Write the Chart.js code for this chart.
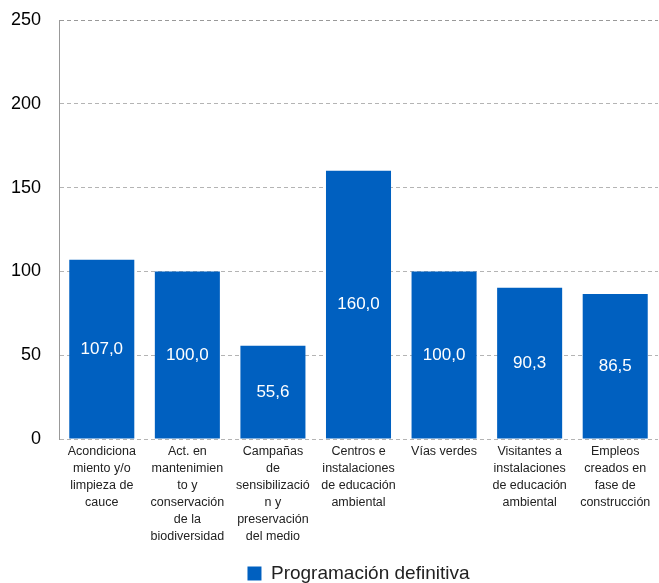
<!DOCTYPE html>
<html>
<head>
<meta charset="utf-8">
<script src="https://cdn.jsdelivr.net/npm/chart.js@4/dist/chart.umd.min.js"></script>
<style>
    html, body { margin: 0; padding: 0; background: #fff; }
    #wrap { width: 659px; height: 583px; }
</style>
</head>
<body>
<div id="wrap"><canvas id="chart" width="659" height="583"></canvas></div>
<script>
const categories = [
    ['Acondiciona', 'miento y/o', 'limpieza de', 'cauce'],
    ['Act. en', 'mantenimien', 'to y', 'conservación', 'de la', 'biodiversidad'],
    ['Campañas', 'de', 'sensibilizació', 'n y', 'preservación', 'del medio'],
    ['Centros e', 'instalaciones', 'de educación', 'ambiental'],
    ['Vías verdes'],
    ['Visitantes a', 'instalaciones', 'de educación', 'ambiental'],
    ['Empleos', 'creados en', 'fase de', 'construcción']
];
const seriesName = 'Programación definitiva';
const seriesValues = [107.0, 100.0, 55.6, 160.0, 100.0, 90.3, 86.5];
const yTicks = [0, 50, 100, 150, 200, 250];

const FONT = "'Liberation Sans', Arial, sans-serif";
const BLUE = '#0060c0';

// white value labels centred inside each bar
const valueLabels = {
    id: 'valueLabels',
    afterDatasetsDraw(chart) {
        const ctx = chart.ctx;
        const meta = chart.getDatasetMeta(0);
        ctx.save();
        ctx.fillStyle = '#ffffff';
        ctx.font = '17px ' + FONT;
        ctx.textAlign = 'center';
        ctx.textBaseline = 'middle';
        meta.data.forEach((bar, i) => {
            const mid = (bar.y + bar.base) / 2;
            ctx.fillText(seriesValues[i].toFixed(1).replace('.', ','), bar.x, mid);
        });
        ctx.restore();
    }
};

new Chart(document.getElementById('chart'), {
    type: 'bar',
    data: {
        labels: categories,
        datasets: [{
            label: seriesName,
            data: seriesValues,
            backgroundColor: BLUE,
            barPercentage: 0.76,
            categoryPercentage: 1.0
        }]
    },
    options: {
        responsive: false,
        animation: false,
        layout: { padding: { top: 20, right: 1, bottom: -10, left: 0 } },
        scales: {
            x: {
                afterFit(scale) { scale.height = 125; },
                grid: { display: false, drawTicks: false },
                border: { display: false },
                ticks: {
                    color: '#222',
                    font: { family: FONT, size: 12.5, lineHeight: 1.36 },
                    maxRotation: 0,
                    autoSkip: false,
                    padding: 4
                }
            },
            y: {
                min: 0,
                max: 250,
                afterFit(scale) {
                    scale.width = 59;
                    scale.paddingTop = 0;
                },
                afterBuildTicks(scale) { scale.ticks = yTicks.map(v => ({ value: v })); },
                border: { display: true, color: '#999', width: 1, dash: [4, 3] },
                grid: {
                    color: ctx => ctx.tick && ctx.tick.value === 250 ? '#999' : '#b4b4b4',
                    drawTicks: false
                },
                ticks: {
                    color: '#000',
                    font: { family: FONT, size: 18 },
                    padding: 18
                }
            }
        },
        plugins: {
            legend: {
                position: 'bottom',
                fullSize: false,
                labels: {
                    color: '#222',
                    font: { family: FONT, size: 19 },
                    boxWidth: 14,
                    boxHeight: 14,
                    padding: 0
                }
            },
            tooltip: { enabled: false }
        }
    },
    plugins: [valueLabels]
});
</script>
</body>
</html>
